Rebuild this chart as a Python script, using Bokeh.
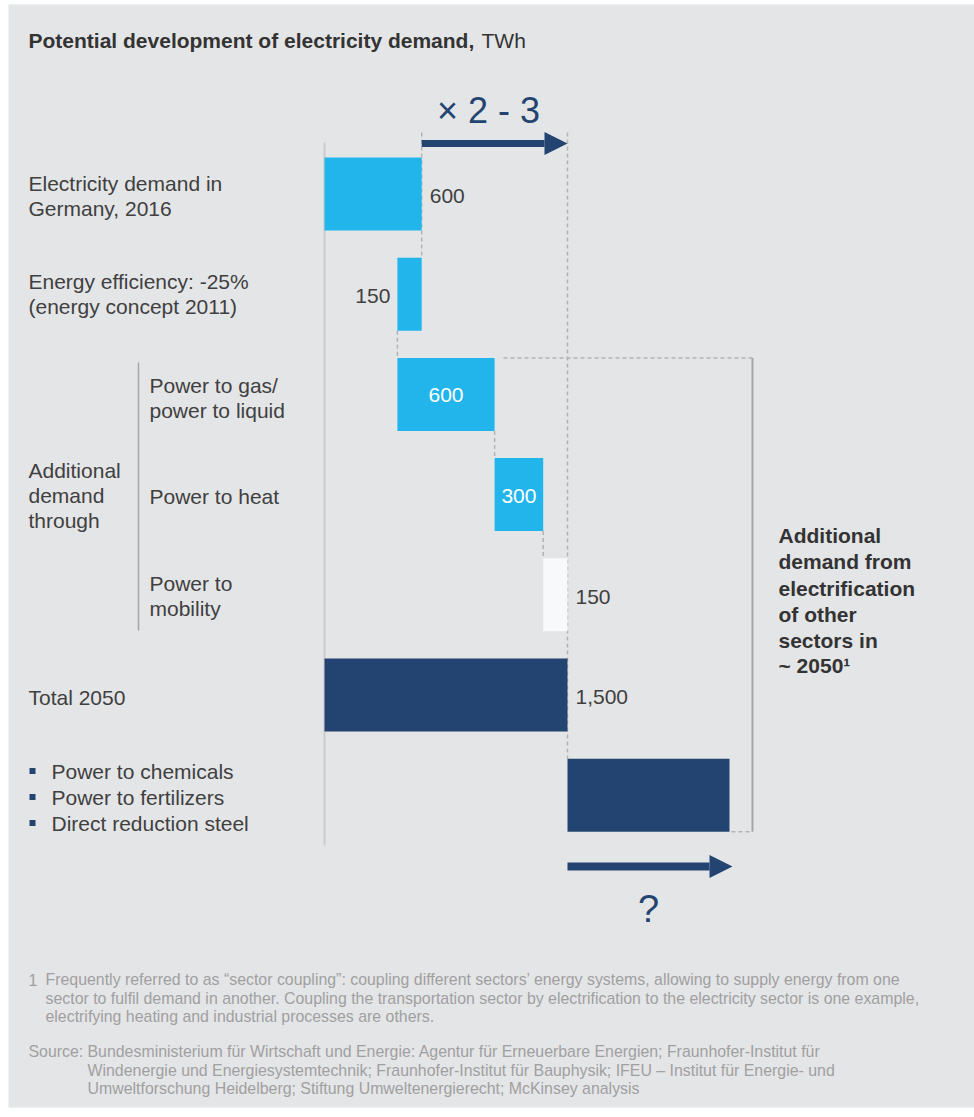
from bokeh.plotting import figure
from bokeh.models import Range1d, Arrow, NormalHead
from bokeh.embed import file_html
from bokeh.resources import INLINE
from bokeh.core.properties import value

# ---------------- data ----------------
steps = ["Electricity demand in Germany, 2016", "Energy efficiency", "Power to gas/power to liquid",
         "Power to heat", "Power to mobility", "Total 2050", "Other sectors"]
kinds = ["delta", "delta", "delta", "delta", "delta", "total", "delta"]
values = [600, -150, 600, 300, 150, 1500, 1000]
value_labels = ["600", "150", "600", "300", "150", "1,500", ""]
label_side = ["right", "left", "inside", "inside", "right", "right", "none"]
bar_colors = ["#22b5ec", "#22b5ec", "#22b5ec", "#22b5ec", "#f8f9fa", "#234471", "#234471"]
factor_label = "× 2 - 3"
factor_from, factor_to = 600, 1500
bullets = ["Power to chemicals", "Power to fertilizers", "Direct reduction steel"]

NAVY = "#234471"
TXT = "#404040"
BG = "#e4e5e7"
FONT = "Liberation Sans"

# ---------------- layout helpers (page px -> data) ----------------
PX0, SCALE = 324.0, 0.162          # x pixel of 0 TWh, px per TWh
ROW0, ROWSTEP = 193.5, 100.2       # y pixel of first row centre, row pitch


def X(px):
    return (px - PX0) / SCALE


def Y(py):
    return (py - ROW0) / ROWSTEP


p = figure(width=974, height=1110, x_range=Range1d(X(8), X(974)), y_range=Range1d(Y(1107), Y(4)),
           output_backend="svg", toolbar_location=None,
           min_border_left=8, min_border_top=4, min_border_right=0, min_border_bottom=3)
p.axis.visible = False
p.grid.visible = False
p.outline_line_color = None
p.background_fill_color = BG
p.border_fill_color = "white"

# ---------------- waterfall geometry ----------------
lefts, rights, ends = [], [], []
run = 0
for k, v in zip(kinds, values):
    if k == "total":
        lefts.append(0)
        rights.append(v)
        run = v
    else:
        lefts.append(min(run, run + v))
        rights.append(max(run, run + v))
        run = run + v
    ends.append(run)
rows = list(range(len(values)))
BH = 73 / ROWSTEP

DASH = "4 3"
DCOL = "#b3b3b3"

# axis line at zero
p.segment(x0=[0], y0=[Y(142)], x1=[0], y1=[Y(845)], line_color="#cbcbcb", line_width=2)

# connectors between consecutive delta bars
cx, cy0, cy1 = [], [], []
for i in range(1, 4):
    cx.append(ends[i])
    cy0.append(rows[i] + BH / 2)
    cy1.append(rows[i + 1] - BH / 2)
p.segment(x0=cx, y0=cy0, x1=cx, y1=cy1, line_color=DCOL, line_width=1.5, line_dash=DASH)
# long guides at 600 and 1500
p.segment(x0=[factor_from], y0=[Y(132)], x1=[factor_from], y1=[rows[1] - BH / 2],
          line_color=DCOL, line_width=1.5, line_dash=DASH)
p.segment(x0=[factor_to], y0=[Y(132)], x1=[factor_to], y1=[rows[6] - BH / 2],
          line_color=DCOL, line_width=1.5, line_dash=DASH)

# right bracket
BX = X(752)
p.segment(x0=[X(503)], y0=[rows[2] - BH / 2], x1=[BX], y1=[rows[2] - BH / 2],
          line_color=DCOL, line_width=1.5, line_dash=DASH)
p.segment(x0=[rights[6] + 2 / SCALE], y0=[rows[6] + BH / 2], x1=[BX], y1=[rows[6] + BH / 2],
          line_color=DCOL, line_width=1.5, line_dash=DASH)
p.segment(x0=[BX], y0=[rows[2] - BH / 2], x1=[BX], y1=[rows[6] + BH / 2],
          line_color="#a6a6a6", line_width=2)

# left bracket for "Additional demand through"
p.segment(x0=[X(138)], y0=[Y(362)], x1=[X(138)], y1=[Y(630)], line_color="#a6a6a6", line_width=1.5)

# bars
p.hbar(y=rows, left=lefts, right=rights, height=BH, fill_color=bar_colors, line_color=None)

# value labels
for i, (lab, side) in enumerate(zip(value_labels, label_side)):
    if side == "none":
        continue
    if side == "right":
        p.text(x=[rights[i]], y=[rows[i] + 0.02], text=[lab], x_offset=8, text_align="left",
               text_baseline="middle", text_font=value(FONT), text_font_size="21px", text_color=TXT)
    elif side == "left":
        p.text(x=[lefts[i]], y=[rows[i] + 0.02], text=[lab], x_offset=-7, text_align="right",
               text_baseline="middle", text_font=value(FONT), text_font_size="21px", text_color=TXT)
    else:
        p.text(x=[(lefts[i] + rights[i]) / 2], y=[rows[i] + 0.01], text=[lab], text_align="center",
               text_baseline="middle", text_font=value(FONT), text_font_size="21px", text_color="white")

# arrows
p.add_layout(Arrow(end=NormalHead(size=23, fill_color=NAVY, line_color=NAVY, line_width=0),
                   x_start=factor_from, y_start=Y(143), x_end=factor_to, y_end=Y(143),
                   line_color=NAVY, line_width=7))
p.add_layout(Arrow(end=NormalHead(size=23, fill_color=NAVY, line_color=NAVY, line_width=0),
                   x_start=lefts[6], y_start=Y(866), x_end=rights[6] + 3 / SCALE, y_end=Y(866),
                   line_color=NAVY, line_width=8))


def txt(px, pyc, s, size="21px", bold=False, color=TXT, align="left"):
    # pyc: vertical middle of the text line (page px)
    p.text(x=[X(px)], y=[Y(pyc)], text=[s], text_font=value(FONT), text_font_size=size,
           text_font_style="bold" if bold else "normal", text_color=color,
           text_align=align, text_baseline="middle")


# factor and question mark
p.text(x=[(factor_from + factor_to) / 2 - 6 / SCALE], y=[Y(110)], text=[factor_label], text_align="center",
       text_baseline="middle", text_font=value(FONT), text_font_size="36px", text_color=NAVY)
p.text(x=[(lefts[6] + rights[6]) / 2], y=[Y(908)], text=["?"], text_align="center",
       text_baseline="middle", text_font=value(FONT), text_font_size="38px", text_color=NAVY)

# title
txt(28, 40, "Potential development of electricity demand,", bold=True, color="#333333")
txt(481, 40, "TWh", color="#333333")

# row labels
txt(28, 182.5, "Electricity demand in")
txt(28, 207.5, "Germany, 2016")
txt(28, 280.5, "Energy efficiency: -25%")
txt(28, 305.5, "(energy concept 2011)")
txt(149, 384.5, "Power to gas/")
txt(149, 409.5, "power to liquid")
txt(28, 469.5, "Additional")
txt(28, 494.5, "demand")
txt(28, 519.5, "through")
txt(149, 495.5, "Power to heat")
txt(149, 582.5, "Power to")
txt(149, 607.5, "mobility")
txt(28, 696.5, "Total 2050")

# bullets
byy = [770.5, 796.5, 822.5]
p.scatter(x=[X(32)] * 3, y=[Y(b) for b in byy], marker="square", size=6, fill_color=NAVY, line_color=None)
for b, s in zip(byy, bullets):
    txt(51, b, s)

# right annotation
for py, s in zip([534.5, 560.5, 587.5, 613.5, 639.5, 664.5],
                 ["Additional", "demand from", "electrification", "of other", "sectors in", "~ 2050¹"]):
    txt(778, py, s, bold=True, color="#333333")

# footnotes
FN = "#a0a0a0"
FS = "15.9px"
txt(28, 979, "1", size=FS, color=FN)
txt(45, 979, "Frequently referred to as “sector coupling”: coupling different sectors’ energy systems, allowing to supply energy from one", size=FS, color=FN)
txt(45, 998, "sector to fulfil demand in another. Coupling the transportation sector by electrification to the electricity sector is one example,", size=FS, color=FN)
txt(45, 1016, "electrifying heating and industrial processes are others.", size=FS, color=FN)
txt(28, 1051, "Source:", size=FS, color=FN)
txt(87, 1051, "Bundesministerium für Wirtschaft und Energie: Agentur für Erneuerbare Energien; Fraunhofer-Institut für", size=FS, color=FN)
txt(87, 1070, "Windenergie und Energiesystemtechnik; Fraunhofer-Institut für Bauphysik; IFEU – Institut für Energie- und", size=FS, color=FN)
txt(87, 1088, "Umweltforschung Heidelberg; Stiftung Umweltenergierecht; McKinsey analysis", size=FS, color=FN)

open("out.html", "w").write(file_html(p, INLINE))
